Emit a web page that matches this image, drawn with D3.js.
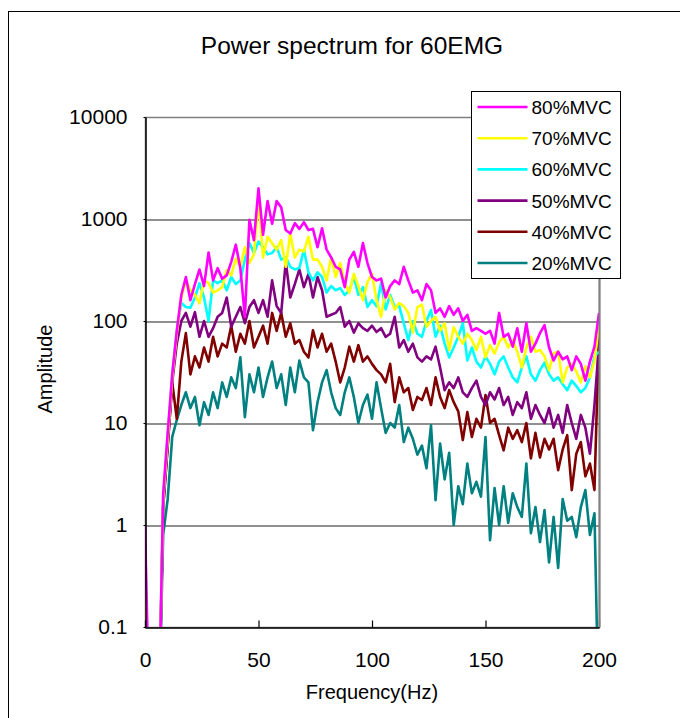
<!DOCTYPE html>
<html>
<head>
<meta charset="utf-8">
<script src="https://cdn.jsdelivr.net/npm/d3@7"></script>
<style>
  body { margin: 0; background: #fff; }
  svg { display: block; font-family: "Liberation Sans", Arial, sans-serif; }
</style>
</head>
<body>
<svg id="chart"></svg>
<script>
// Constants
const svgWidth = 680;
const svgHeight = 718;
const plot = {left: 145, right: 599, top: 117, bottom: 627};

// Frequency axis (Hz), one value every 2 Hz
const freqs = d3.range(0, 201, 2);

const seriesNames = ["80%MVC", "70%MVC", "60%MVC", "50%MVC", "40%MVC", "20%MVC"];
const seriesColors = ["#ff00ff", "#ffff00", "#00ffff", "#800080", "#800000", "#008080"];

const yTickValues = [0.1, 1, 10, 100, 1000, 10000];
const xTickValues = [0, 50, 100, 150, 200];

// values (0.01 = below the axis)
const mvc80 = [1.0, 0.01, 0.01, 0.01, 2.0, 8, 30, 80, 180, 270,
  160, 230, 320, 220, 470, 250, 330, 260, 280, 380,
  560, 330, 110, 980, 620, 2000, 700, 1500, 900, 1500,
  1300, 780, 720, 910, 800, 930, 780, 800, 530, 810,
  500, 420, 340, 320, 215, 400, 475, 340, 580, 370,
  270, 250, 260, 170, 220, 250, 230, 340, 250, 190,
  200, 160, 230, 200, 120, 133, 110, 140, 115, 133,
  100, 115, 80, 85, 80, 75, 80, 60, 120, 70,
  75, 56, 85, 50, 95, 50, 60, 76, 91, 55,
  41, 50, 42, 45, 33, 45, 38, 26, 40, 56, 120];

const mvc70 = [0.32, 0.01, 0.01, 0.01, 1.8, 7, 28, 75, 170, 250,
  200, 180, 150, 250, 235, 190, 200, 215, 315, 280,
  410, 340, 530, 370, 450, 1600, 420, 670, 580, 500,
  620, 340, 720, 420, 500, 480, 670, 400, 400, 340,
  250, 420, 270, 370, 235, 190, 290, 220, 160, 240,
  290, 160, 110, 200, 170, 130, 150, 140, 120, 77,
  137, 145, 88, 100, 110, 80, 95, 52, 87, 70,
  60, 75, 65, 52, 70, 44, 58, 48, 62, 70,
  55, 65, 50, 35, 55, 70, 50, 52, 45, 33,
  48, 50, 25, 35, 38, 32, 25, 36, 28, 41, 90];

const mvc60 = [0.6, 0.01, 0.01, 0.01, 1.8, 7.5, 30, 80, 150, 137,
  135, 170, 235, 170, 100, 250, 235, 250, 200, 270,
  230, 250, 400, 580, 465, 600, 530, 450, 465, 530,
  400, 420, 340, 320, 330, 500, 300, 250, 300, 270,
  190, 220, 200, 210, 180, 200, 270, 180, 215, 137,
  160, 140, 235, 130, 180, 137, 140, 95, 65, 100,
  75, 70, 100, 128, 70, 90, 60, 44, 55, 70,
  95, 41, 55, 40, 35, 45, 38, 30, 40, 45,
  35, 28, 25, 35, 45, 30, 26, 33, 39, 30,
  26, 28, 24, 21, 26, 23, 20, 22, 28, 45, 50];

const mvc50 = [0.21, 0.01, 0.01, 0.01, 1.5, 6, 25, 60, 100, 120,
  88, 122, 70, 100, 70, 85, 110, 120, 170, 88,
  110, 137, 95, 137, 160, 120, 160, 110, 250, 140,
  120, 380, 170, 230, 320, 215, 290, 170, 270, 200,
  110, 115, 120, 137, 88, 100, 77, 95, 85, 80,
  90, 78, 85, 70, 75, 110, 55, 65, 50, 60,
  44, 40, 45, 42, 56, 35, 21, 25, 22, 28,
  20, 18, 22, 26, 18, 15, 20, 17, 22, 15,
  18, 12, 16, 14, 20, 11, 15, 12, 10, 14,
  9, 12, 8, 15, 10, 7, 12, 9, 5, 15, 60];

const mvc40 = [0.14, 0.01, 0.01, 0.01, 1.5, 6, 25, 11, 40, 76,
  30, 45, 35, 55, 40, 70, 45, 60, 55, 90,
  50, 75, 60, 100, 55, 70, 90, 60, 120, 80,
  120, 70, 95, 60, 65, 50, 44, 81, 55, 75,
  50, 60, 40, 25, 35, 56, 40, 58, 40, 45,
  38, 33, 30, 25, 38, 16, 28, 20, 22, 13.4,
  18, 16.8, 22, 15, 28, 18, 14, 21, 16, 13,
  6.8, 12.8, 7.3, 11, 9, 18.8, 10, 11, 7.6, 5.4,
  9, 7, 8.5, 6.5, 10, 4.5, 8, 4.6, 7, 5.5,
  7, 3.45, 5.5, 7.6, 2.2, 5, 6.5, 3, 4, 2.2, 80];

const mvc20 = [0.01, 0.01, 0.01, 0.01, 0.8, 1.8, 7.3, 10.7, 15, 20,
  14, 18, 9.5, 16, 12, 20, 14, 25, 18, 28,
  22, 44, 11.4, 30, 20, 35, 18, 28, 40, 22,
  30, 15, 35, 20, 41, 28, 25, 8.5, 16, 25,
  33, 20, 14, 12, 20, 28, 18, 10, 15, 19,
  11, 25, 14, 8, 10, 9, 15, 6.5, 9, 7,
  4.9, 6, 3.6, 9.5, 1.75, 6.3, 2.8, 5.1, 1.0, 2.4,
  1.6, 4.0, 2.05, 2.65, 1.9, 7.3, 0.71, 2.3, 1.0, 2.4,
  1.05, 2.05, 1.5, 1.2, 4.0, 0.83, 1.5, 0.68, 1.4, 0.43,
  1.2, 0.38, 1.8, 1.1, 1.2, 0.76, 1.5, 2.2, 0.8, 1.3, 0.01];

const seriesValues = [mvc80, mvc70, mvc60, mvc50, mvc40, mvc20];

// Global variables
var svg;
var xScale;
var yScale;

window.addEventListener("load", (e) => {
  drawChart();
});

function drawChart() {
  svg = d3.select("#chart")
    .attr("width", svgWidth)
    .attr("height", svgHeight);

  // outer chart border (only left and top visible)
  svg.append("rect")
    .attr("x", 8.5)
    .attr("y", 11.5)
    .attr("width", svgWidth + 20)
    .attr("height", svgHeight + 20)
    .attr("fill", "none")
    .attr("stroke", "#000")
    .attr("stroke-width", 1);

  xScale = d3.scaleLinear()
    .domain([0, 200])
    .range([plot.left, plot.right]);

  yScale = d3.scaleLog()
    .domain([0.1, 10000])
    .range([plot.bottom, plot.top]);

  // plot area frame (grey)
  svg.append("rect")
    .attr("x", plot.left + 0.5)
    .attr("y", plot.top + 0.5)
    .attr("width", plot.right - plot.left)
    .attr("height", plot.bottom - plot.top)
    .attr("fill", "none")
    .attr("stroke", "#808080")
    .attr("stroke-width", 1.5);

  // horizontal gridlines
  const yGrid = d3.axisLeft(yScale)
    .tickValues(yTickValues.filter(d => d > 0.1 && d < 10000))
    .tickFormat("")
    .tickSizeOuter(0)
    .tickSizeInner(-(plot.right - plot.left));
  svg.append("g")
    .attr("id", "y-grid")
    .attr("transform", `translate(${plot.left}, 0.5)`)
    .call(yGrid)
    .call(g => g.select(".domain").remove())
    .call(g => g.selectAll("line").attr("stroke", "#222").attr("stroke-width", 1.2));

  // lines
  svg.append("clipPath")
    .attr("id", "plotClip")
    .append("rect")
    .attr("x", plot.left)
    .attr("y", plot.top)
    .attr("width", plot.right - plot.left + 1)
    .attr("height", plot.bottom - plot.top);

  const line = d3.line()
    .x((d, i) => xScale(freqs[i]))
    .y(d => yScale(d));

  const lineGroup = svg.append("g")
    .attr("id", "lineGroup")
    .attr("clip-path", "url(#plotClip)");

  // draw bottom series first so the order matches the reference
  const order = d3.range(seriesValues.length).reverse();
  lineGroup.selectAll("path")
    .data(order)
    .join("path")
    .attr("d", i => line(seriesValues[i]))
    .attr("fill", "none")
    .attr("stroke", i => seriesColors[i])
    .attr("stroke-width", 2.6)
    .attr("stroke-linejoin", "round");

  // x-axis
  svg.append("g")
    .attr("id", "xAxis")
    .attr("transform", `translate(0, ${plot.bottom + 0.5})`)
    .call(d3.axisBottom(xScale)
      .tickValues(xTickValues)
      .tickSizeInner(-7)
      .tickSizeOuter(0)
      .tickPadding(25))
    .call(g => g.select(".domain").attr("stroke", "#000").attr("stroke-width", 1.5))
    .call(g => g.selectAll("line").attr("stroke", "#000").attr("stroke-width", 1.2))
    .call(g => g.selectAll("text")
      .attr("font-size", "21px")
      .attr("font-family", "Liberation Sans, Arial")
      .attr("fill", "#000"));

  // y-axis
  svg.append("g")
    .attr("id", "yAxis")
    .attr("transform", `translate(${plot.left + 0.5}, 0)`)
    .call(d3.axisLeft(yScale)
      .tickValues(yTickValues)
      .tickFormat(d => String(d))
      .tickSizeInner(2)
      .tickSizeOuter(0)
      .tickPadding(16))
    .call(g => g.select(".domain").attr("stroke", "#000").attr("stroke-width", 1.5))
    .call(g => g.selectAll("line").attr("stroke", "#000"))
    .call(g => g.selectAll("text")
      .attr("font-size", "21px")
      .attr("font-family", "Liberation Sans, Arial")
      .attr("fill", "#000"));

  // right border
  svg.append("line")
    .attr("x1", plot.right + 0.5)
    .attr("x2", plot.right + 0.5)
    .attr("y1", plot.top)
    .attr("y2", plot.bottom)
    .attr("stroke", "#808080")
    .attr("stroke-width", 2);

  // title
  svg.append("text")
    .attr("x", 352)
    .attr("y", 54)
    .attr("text-anchor", "middle")
    .attr("font-size", "24.5px")
    .text("Power spectrum for 60EMG");

  // x-axis title
  svg.append("text")
    .attr("x", 372)
    .attr("y", 699)
    .attr("text-anchor", "middle")
    .attr("font-size", "20px")
    .text("Frequency(Hz)");

  // y-axis title
  svg.append("text")
    .attr("x", -(plot.top + plot.bottom) / 2 + 3)
    .attr("y", 52)
    .attr("transform", "rotate(-90)")
    .attr("text-anchor", "middle")
    .attr("font-size", "20px")
    .text("Amplitude");

  drawLegend();
}

function drawLegend() {
  const legend = svg.append("g")
    .attr("id", "legend")
    .attr("transform", "translate(471.5, 91.5)");

  legend.append("rect")
    .attr("width", 149)
    .attr("height", 187)
    .attr("fill", "#fff")
    .attr("stroke", "#000")
    .attr("stroke-width", 1);

  const rows = legend.selectAll("g.row")
    .data(seriesNames)
    .join("g")
    .attr("class", "row")
    .attr("transform", (d, i) => `translate(0, ${15.5 + i * 31.2})`);

  rows.append("line")
    .attr("x1", 6)
    .attr("x2", 56)
    .attr("stroke", (d, i) => seriesColors[i])
    .attr("stroke-width", 2.6);

  rows.append("text")
    .attr("x", 60)
    .attr("y", 7)
    .attr("font-size", "19px")
    .text(d => d);
}
</script>
</body>
</html>
